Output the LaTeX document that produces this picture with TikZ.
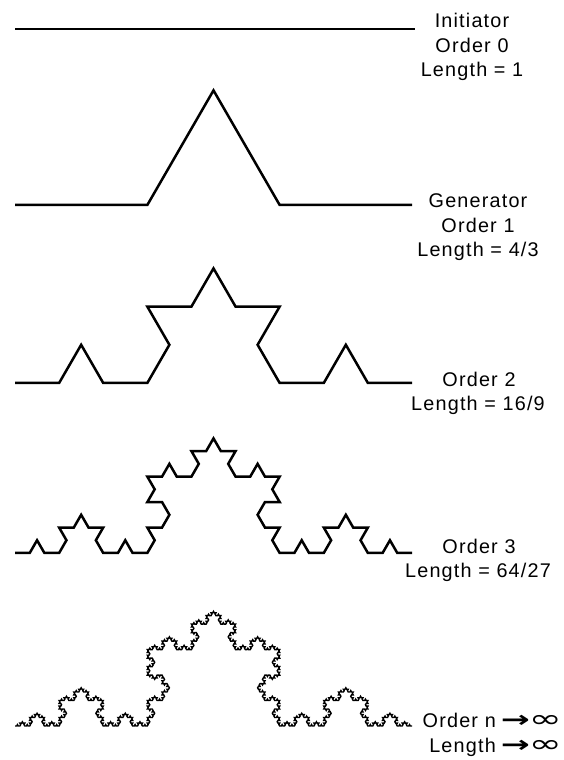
\documentclass[tikz,border=0pt]{standalone}
\usepackage{fontspec}
\setmainfont{Liberation Sans}[LetterSpace=6]
\newfontfamily\symfont{DejaVu Sans}
\usetikzlibrary{lindenmayersystems}
\pgfdeclarelindenmayersystem{Koch}{\rule{F -> F+F--F+F}}
\tikzset{
  curve/.style={line width=2.5pt, black, line join=miter},
  fine/.style={line width=1.4pt, black, line join=miter},
  lbl/.style={font=\fontsize{19.8}{24}\selectfont, inner sep=0pt, anchor=base},
  lblr/.style={font=\fontsize{19.8}{24}\selectfont, inner sep=0pt, anchor=base east},
}
\newcommand{\tendsto}{\hspace{5pt}{\symfont\bfseries\scalebox{1.75}[1.15]{→}}\hspace{-1pt}{\symfont\scalebox{2.0}[1.25]{∞}}}
\begin{document}
\begin{tikzpicture}[x=1pt,y=1pt]
\path[use as bounding box] (0,0) rectangle (563,760);
% order 0
\draw[curve] (15,731) -- (415,731);
% order 1
\begin{scope}[shift={(15,555)}]
\draw[curve, lindenmayer system={Koch, axiom=F, order=1, step=132.333pt, angle=60}] lindenmayer system;
\end{scope}
% order 2
\begin{scope}[shift={(15,377)}]
\draw[curve, lindenmayer system={Koch, axiom=F, order=2, step=44.111pt, angle=60}] lindenmayer system;
\end{scope}
% order 3
\begin{scope}[shift={(15,207)}]
\draw[curve, lindenmayer system={Koch, axiom=F, order=3, step=14.7037pt, angle=60}] lindenmayer system;
\end{scope}
% order 5
\begin{scope}[shift={(15,34)}]
\draw[fine, lindenmayer system={Koch, axiom=F, order=5, step=1.63374pt, angle=60}] lindenmayer system;
\end{scope}
% labels
\node[lbl] (i1) at (472,732) {Initiator};
\node[lbl] (i2) at (472,707.5) {Order 0};
\node[lbl] (i3) at (472,683) {Length = 1};
\node[lbl] (g1) at (478,552) {Generator};
\node[lbl] (g2) at (478,527.5) {Order 1};
\node[lbl] (g3) at (478,503) {Length = 4/3};
\node[lbl] (o21) at (479,373.5) {Order 2};
\node[lbl] (o22) at (478,349) {Length = 16/9};
\node[lbl] (o31) at (479,206) {Order 3};
\node[lbl] (o32) at (478,182.5) {Length = 64/27};
\node[lblr] (on1) at (562,32) {Order n\tendsto};
\node[lblr] (on2) at (562,7.5) {Length\tendsto};
\end{tikzpicture}
\end{document}
